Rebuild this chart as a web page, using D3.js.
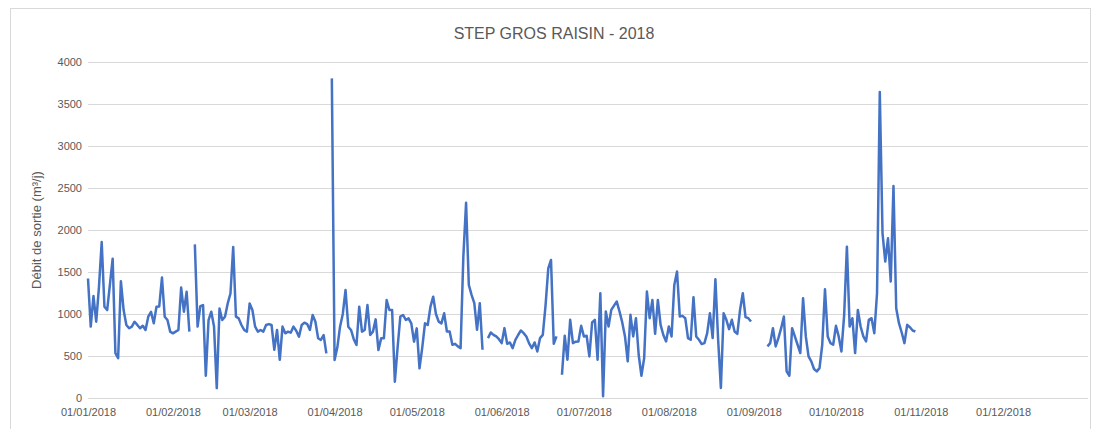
<!DOCTYPE html>
<html>
<head>
<meta charset="utf-8">
<script src="https://cdn.jsdelivr.net/npm/d3@7"></script>
<style>
  body { margin: 0; background: #fff; }
  text { font-family: "Liberation Sans", Arial, sans-serif; fill: #595959; }
</style>
</head>
<body>
<svg id="chart"></svg>
<script>
// daily outflow values (m3/j), one array per month, null = no measure
const janVals = [1422,850,1213,908,1320,1857,1086,1047,1350,1659,533,474,1390,1047,869,830,850,908,870,830,860,810,968,1027,889,1086,1090,1434,968,928,790];
const febVals = [770,790,810,1315,1027,1264,790,null,1829,850,1094,1106,265,928,1027,850,118,1066,928,968,1126,1244,1797,968,948,869,810,790];
const marVals = [1126,1047,850,790,810,790,869,880,869,573,810,454,850,770,790,778,850,800,731,869,897,880,810,988,908,711,691,750,532,null,3805];
const aprVals = [452,600,849,1000,1286,849,810,700,631,1087,790,810,1107,750,790,936,571,710,710,1167,1048,1048,194,600,968,988,929,948,889,671];
const mayVals = [829,353,600,889,869,1087,1206,1000,909,889,1008,792,792,634,645,614,594,1683,2325,1346,1228,1129,812,1129,574,null,713,780,752,733,700];
const junVals = [653,832,645,661,594,693,750,804,772,733,650,594,661,554,713,752,1100,1544,1643,645,733,null,277,741,455,931,653,670,673,859];
const julVals = [733,741,495,899,931,455,1247,20,1030,851,1049,1100,1148,1030,900,733,436,990,733,950,515,265,475,1267,950,1168,764,1168,871,750,673];
const augVals = [851,733,1346,1505,970,978,950,713,693,1200,733,693,642,653,772,1010,713,1414,693,119,1010,931,820,931,792,764,1049,1247,962,950,911];
const sepVals = [null,null,null,null,null,614,653,831,614,713,831,970,317,265,831,733,634,535,1188,733,495,436,345,317,356,634,1295,733,653,634];
const octVals = [859,733,554,990,1802,851,950,535,1049,851,733,673,931,950,772,1247,3643,1960,1624,1901,1386,2523,1069,891,780,653,871,843,804,792];

const months = [janVals, febVals, marVals, aprVals, mayVals, junVals, julVals, augVals, sepVals, octVals];
const yTicks = [0, 500, 1000, 1500, 2000, 2500, 3000, 3500, 4000];
const chartTitle = "STEP GROS RAISIN - 2018";
const yTitle = "Débit de sortie (m³/j)";

// build the daily series from the month arrays
const series = [];
months.forEach((vals, m) => {
  vals.forEach((v, i) => {
    series.push({ date: new Date(2018, m, i + 1), v: v });
  });
});

const width = 1096, height = 429;
const svg = d3.select("#chart").attr("width", width).attr("height", height);

// chart frame
svg.append("rect")
  .attr("x", 10.5).attr("y", 8.5)
  .attr("width", 1080).attr("height", 440)
  .attr("fill", "none").attr("stroke", "#d9d9d9");

const x = d3.scaleTime()
  .domain([new Date(2018, 0, 1), new Date(2019, 0, 1)])
  .range([88, 1088]);

const y = d3.scaleLinear()
  .domain([0, 4000])
  .range([398, 62]);

// gridlines
svg.append("g")
  .selectAll("line")
  .data(yTicks)
  .enter().append("line")
  .attr("x1", 88).attr("x2", 1088)
  .attr("y1", d => Math.round(y(d)) + 0.5)
  .attr("y2", d => Math.round(y(d)) + 0.5)
  .attr("stroke", "#d9d9d9")
  .attr("stroke-width", 1);

// y axis labels
const yAxis = d3.axisLeft(y).tickValues(yTicks).tickFormat(d3.format("d")).tickSize(0).tickPadding(0);
const gy = svg.append("g").attr("transform", "translate(82,0)").call(yAxis);
gy.select(".domain").remove();
gy.selectAll("text").style("font-size", "11px").attr("fill", "#595959");

// x axis labels
const xAxis = d3.axisBottom(x)
  .ticks(d3.timeMonth.every(1))
  .tickFormat(d3.timeFormat("%d/%m/%Y"))
  .tickSize(0).tickPadding(0);
const gx = svg.append("g").attr("transform", "translate(0,408)").call(xAxis);
gx.select(".domain").remove();
gx.selectAll("text").style("font-size", "11px").attr("fill", "#595959")
  .filter(d => d.getFullYear() > 2018).remove();

// line
const line = d3.line()
  .defined(d => d.v != null)
  .x(d => x(d.date))
  .y(d => y(d.v));

svg.append("path")
  .datum(series)
  .attr("fill", "none")
  .attr("stroke", "#4472c4")
  .attr("stroke-width", 2.5)
  .attr("stroke-linejoin", "round")
  .attr("d", line);

// titles
svg.append("text")
  .attr("x", 554).attr("y", 39)
  .attr("text-anchor", "middle")
  .style("font-size", "16px")
  .text(chartTitle);

svg.append("text")
  .attr("transform", "translate(41,230) rotate(-90)")
  .attr("text-anchor", "middle")
  .style("font-size", "13px")
  .text(yTitle);
</script>
</body>
</html>
